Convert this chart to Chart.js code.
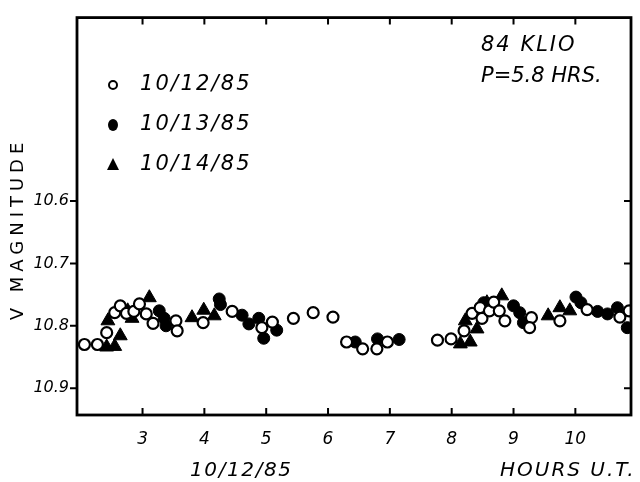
<!DOCTYPE html>
<html>
<head>
<meta charset="utf-8">
<script src="https://cdn.jsdelivr.net/npm/chart.js@4.4.0/dist/chart.umd.min.js"></script>
<style>
  body { margin: 0; background: #fff; }
  #wrap { width: 640px; height: 482px; }
</style>
</head>
<body>
<div id="wrap"><canvas id="grafico" width="640" height="482"></canvas></div>
<script>
// 10/12/85 (open circles)
const horas1 = [2.06, 2.27, 2.42, 2.55, 2.64, 2.74, 2.86, 2.95, 3.06, 3.17, 3.54, 3.56, 3.98, 4.45, 4.93, 5.10, 5.44, 5.76, 6.08,
  6.30, 6.56, 6.79, 6.96, 7.77, 7.99, 8.20, 8.33, 8.46, 8.49, 8.61, 8.68, 8.77, 8.86, 9.29, 9.26, 9.75, 10.19, 10.72, 10.87];
const mag1 = [10.830, 10.830, 10.811, 10.779, 10.768, 10.780, 10.777, 10.765, 10.781, 10.796, 10.792, 10.808, 10.795, 10.777, 10.803, 10.794, 10.788, 10.779, 10.786,
  10.826, 10.837, 10.837, 10.826, 10.823, 10.821, 10.808, 10.780, 10.771, 10.788, 10.776, 10.762, 10.776, 10.792, 10.787, 10.803, 10.792, 10.774, 10.786, 10.776];

// 10/13/85 (filled circles)
const horas2 = [3.27, 3.35, 3.38, 4.24, 4.26, 4.61, 4.72, 4.88, 4.96, 5.17, 6.44, 6.80, 7.15, 8.52, 9.00, 9.10, 9.16, 10.01, 10.09, 10.36, 10.52, 10.68, 10.84];
const mag2 = [10.776, 10.788, 10.800, 10.757, 10.766, 10.783, 10.797, 10.788, 10.820, 10.807, 10.826, 10.821, 10.822, 10.763, 10.768, 10.779, 10.795, 10.754, 10.763, 10.777, 10.781, 10.771, 10.803];

// 10/14/85 (triangles)
const horas3 = [2.42, 2.55, 2.64, 2.44, 2.76, 2.83, 3.11, 3.80, 3.99, 4.16, 8.14, 8.30, 8.22, 8.41, 8.57, 8.81, 9.56, 9.75, 9.91];
const mag3 = [10.834, 10.833, 10.816, 10.792, 10.776, 10.788, 10.755, 10.787, 10.775, 10.784, 10.829, 10.826, 10.792, 10.805, 10.763, 10.752, 10.784, 10.771, 10.776];

const ticksX = [3, 4, 5, 6, 7, 8, 9, 10];
const ticksY = [10.6, 10.7, 10.8, 10.9];
const fechas = ["10/12/85", "10/13/85", "10/14/85"];

const puntos = (xs, ys) => xs.map((x, i) => ({ x: x, y: ys[i] }));

const marco = {
  id: "marco",
  afterDraw(chart) {
    const ctx = chart.ctx;
    const a = chart.chartArea;
    const sx = chart.scales.x;
    const sy = chart.scales.y;
    ctx.save();
    ctx.strokeStyle = "#000";
    ctx.lineWidth = 2.8;
    ctx.strokeRect(a.left, a.top, a.right - a.left, a.bottom - a.top);
    ctx.lineWidth = 2;
    ctx.beginPath();
    ticksX.forEach(v => {
      const px = sx.getPixelForValue(v);
      ctx.moveTo(px, a.bottom); ctx.lineTo(px, a.bottom - 7);
      ctx.moveTo(px, a.top); ctx.lineTo(px, a.top + 7);
    });
    ticksY.forEach(v => {
      const py = sy.getPixelForValue(v);
      ctx.moveTo(a.left, py); ctx.lineTo(a.left - 7, py);
      ctx.moveTo(a.right, py); ctx.lineTo(a.right - 7, py);
    });
    ctx.stroke();

    // leyenda
    ctx.fillStyle = "#000";
    ctx.font = "italic 21px 'DejaVu Sans'";
    ctx.textBaseline = "middle";
    ctx.letterSpacing = "2.2px";
    const ly = [85, 125, 165];
    fechas.forEach((t, i) => ctx.fillText(t, 140, ly[i]));
    ctx.lineWidth = 2;
    ctx.beginPath();
    ctx.arc(113, ly[0], 4, 0, Math.PI * 2);
    ctx.stroke();
    ctx.beginPath();
    ctx.ellipse(113, ly[1], 5, 6, 0, 0, Math.PI * 2);
    ctx.fill();
    ctx.beginPath();
    ctx.moveTo(113, ly[2] - 7); ctx.lineTo(119, ly[2] + 5); ctx.lineTo(107, ly[2] + 5);
    ctx.closePath();
    ctx.fill();

    // anotaciones
    ctx.letterSpacing = "2px";
    ctx.fillText("84 KLIO", 481, 46);
    ctx.letterSpacing = "0px";
    ctx.fillText("P=5.8 HRS.", 481, 77);
    ctx.font = "italic 20px 'DejaVu Sans'";
    ctx.letterSpacing = "1.6px";
    ctx.fillText("10/12/85", 190, 471);
    ctx.letterSpacing = "2px";
    ctx.fillText("HOURS U.T.", 500, 471);

    // titulo eje y
    ctx.translate(18, 231);
    ctx.rotate(-Math.PI / 2);
    ctx.textAlign = "center";
    ctx.font = "18px 'DejaVu Sans'";
    ctx.letterSpacing = "5px";
    ctx.fillText("V MAGNITUDE", 2, 0);
    ctx.restore();
  }
};

new Chart(document.getElementById("grafico"), {
  type: "scatter",
  data: {
    datasets: [
      { label: fechas[0], data: puntos(horas1, mag1), pointStyle: "circle", pointRadius: 5.5, borderWidth: 2.2,
        borderColor: "#000", backgroundColor: "#fff" },
      { label: fechas[1], data: puntos(horas2, mag2), pointStyle: "circle", pointRadius: 6, borderWidth: 1,
        borderColor: "#000", backgroundColor: "#000" },
      { label: fechas[2], data: puntos(horas3, mag3), pointStyle: "triangle", pointRadius: 8, borderWidth: 1,
        borderColor: "#000", backgroundColor: "#000" }
    ]
  },
  options: {
    responsive: false,
    animation: false,
    layout: { padding: { top: 14, right: 5, left: 0, bottom: 0 } },
    plugins: { legend: { display: false }, tooltip: { enabled: false } },
    scales: {
      x: {
        type: "linear", min: 1.94, max: 10.9,
        afterBuildTicks: s => { s.ticks = ticksX.map(v => ({ value: v })); },
        afterFit: s => { s.height = 67; },
        grid: { display: false, drawTicks: false },
        border: { display: false },
        ticks: { color: "#000", padding: 14, font: { family: "DejaVu Sans", size: 17, style: "italic" } }
      },
      y: {
        type: "linear", reverse: true, min: 10.306, max: 10.943,
        afterBuildTicks: s => { s.ticks = ticksY.map(v => ({ value: v })); },
        afterFit: s => { s.width = 77; },
        grid: { display: false, drawTicks: false },
        border: { display: false },
        ticks: { color: "#000", padding: 8, callback: v => v.toFixed(1),
          font: { family: "DejaVu Sans", size: 16, style: "italic" } }
      }
    }
  },
  plugins: [marco]
});
</script>
</body>
</html>
